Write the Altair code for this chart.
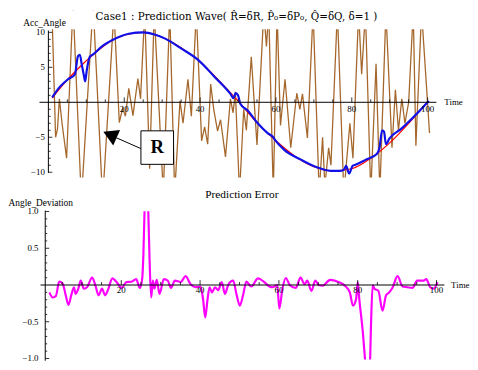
import altair as alt
import pandas as pd

# ---------------- data ----------------
# top panel: noisy measurement (brown), (time, angle)
measured = [(1.0, 12), (1.9, -5.0), (2.4, -3.8), (2.9, 0.5), (3.6, -3.0), (4.8, -8.0),
            (6.5, 14), (8.7, -14), (11.8, 14), (14.3, -14), (17.3, 13), (18.7, -2.9),
            (19.6, -0.8), (20.3, -2.0), (21.2, 2.0), (22.3, -1.9), (23.6, 3.4), (24.3, 0.5),
            (25.4, 13), (26.7, -9.5), (27.9, 13), (30.3, -13), (32.0, 13), (33.3, -13),
            (34.7, 0.2), (35.5, -3.0), (36.8, 3.3), (37.7, -2.0), (39.0, 13), (40.4, -5.5),
            (41.2, -3.5), (42.0, -6.0), (42.8, 2.6), (43.6, -1.0), (44.6, -4.1), (45.4, -2.5),
            (46.7, -7.8), (48.0, 0.5), (48.7, -1.5), (49.3, 1.5), (50.4, -13), (51.5, -1.0),
            (52.2, -4.0), (53.5, 6.5), (55.0, -6.1), (56.8, 13), (57.5, 8.0), (58.1, 13),
            (59.3, -13), (60.3, 13), (61.2, -3.3), (62.4, 3.3), (63.9, -6.5), (65.5, 1.3),
            (66.3, -1.0), (67.0, 1.2), (68.3, -5.1), (69.8, 13), (71.4, -13), (72.3, -5.0),
            (72.9, -12), (73.9, -6.5), (74.5, -9.0), (76.2, 13), (77.9, -13), (79.5, -3.0),
            (80.3, -8.0), (81.8, 13), (82.6, 4.0), (83.6, 13), (85.0, -13), (86.4, 5.5),
            (87.4, -13), (89.0, 13), (90.6, -6.5), (91.5, 1.8), (92.3, -4.0), (93.2, 0.5),
            (94.0, -3.0), (95.0, 0.0), (96.2, 13), (96.9, -6.2), (98.4, 13), (100.5, -4.4)]

# true angle (red)
true_wave = [(1, 0.6), (4, 2.6), (8, 4.9), (12, 6.9), (16, 8.6), (20, 9.6), (25, 10.0),
             (30, 9.3), (35, 7.8), (40, 5.8), (45, 3.1), (50, 0.2), (55, -2.9), (60, -5.5),
             (65, -7.7), (70, -9.2), (75, -9.8), (80, -9.5), (85, -8.0), (90, -5.8),
             (95, -3.0), (100, 0.1)]

# predicted angle (blue)
predicted = [(1.0, 0.7), (3.0, 2.2), (5.2, 3.3), (7.0, 4.0), (7.8, 6.6), (8.3, 6.8), (8.8, 5.4),
             (9.3, 4.0), (9.7, 3.0), (10.1, 4.5), (10.9, 6.5), (11.7, 6.8), (13.9, 7.9),
             (16.9, 8.9), (21.2, 9.8), (25.0, 10.0), (28.0, 9.7), (30.8, 9.1), (35.0, 7.7),
             (39.4, 6.1), (43.7, 3.7), (48.0, 1.2), (48.8, 0.6), (49.4, 1.3), (50.0, 1.0),
             (50.6, -0.2), (52.6, -1.2), (55.2, -3.0), (57.8, -4.4), (59.3, -5.0), (59.8, -5.4),
             (62.2, -6.8), (66.6, -8.2), (70.8, -9.3), (74.4, -9.8), (77.0, -9.8), (78.0, -9.6),
             (78.5, -9.1), (79.3, -10.2), (80.2, -9.1), (81.1, -8.9), (83.7, -8.2), (86.6, -7.4),
             (87.3, -6.5), (88.0, -4.0), (88.5, -4.2), (89.0, -6.0), (89.9, -5.2), (93.0, -3.8),
             (97.0, -1.7), (100.3, 0.2)]

# bottom panel: prediction error (magenta)
error = [(1.75, -0.10), (2.6, -0.17), (3.4, -0.15), (4.25, 0.045), (5.1, 0.02), (5.9, -0.14),
         (6.6, -0.27), (7.3, -0.14), (8.0, -0.03), (8.4, -0.12), (9.1, -0.05), (9.7, 0.06),
         (10.5, -0.05), (11.3, -0.03), (12.6, 0.10), (13.4, 0.0), (14.25, -0.14), (15.1, -0.05),
         (15.9, -0.14), (16.6, -0.07), (17.75, 0.09), (18.8, 0.04), (20.1, -0.04), (21.3, 0.04),
         (22.6, 0.045), (23.8, 0.08), (24.7, -0.04), (25.3, 0.08), (25.6, 0.4), (25.95, 1.1),
         (26.4, 1.5), (26.8, 1.1), (27.2, 0.3), (27.6, -0.17), (28.0, 0.06), (28.4, -0.05),
         (29.0, 0.07), (29.7, -0.12), (30.8, 0.08), (31.8, 0.06), (32.6, -0.04), (33.6, 0.06),
         (35.1, 0.04), (36.3, 0.12), (37.6, 0.01), (38.8, -0.03), (40.1, -0.02), (40.75, -0.19),
         (41.3, -0.44), (41.9, -0.19), (42.4, -0.03), (43.0, -0.10), (43.8, -0.03), (44.6, -0.07),
         (45.5, 0.04), (46.3, -0.12), (47.2, 0.01), (48.4, 0.06), (49.25, -0.13), (50.1, -0.28),
         (50.9, -0.14), (51.75, 0.045), (53.0, -0.02), (54.7, 0.09), (56.3, 0.04), (57.6, -0.02),
         (58.4, -0.03), (59.6, 0.0), (60.1, -0.32), (60.9, -0.05), (61.75, 0.095), (62.75, 0.0),
         (64.25, -0.04), (65.5, 0.10), (66.5, 0.01), (67.2, 0.06), (68.25, -0.08), (69.25, 0.06),
         (70.1, 0.0), (71.1, -0.01), (73.0, 0.07), (75.1, 0.04), (76.75, -0.01), (78.0, -0.10),
         (78.8, -0.28), (79.6, -0.19), (80.0, 0.04), (80.4, -0.19), (81.3, -0.64), (82.0, -1.1),
         (82.6, -1.4), (83.1, -1.1), (83.4, -0.5), (83.8, 0.0), (84.25, -0.05), (85.25, -0.08),
         (86.3, -0.35), (87.2, -0.14), (88.0, -0.10), (88.9, -0.03), (90.1, 0.12), (91.4, -0.02),
         (92.6, -0.03), (93.9, -0.04), (95.1, 0.06), (96.75, 0.06), (97.4, 0.08), (98.4, -0.03),
         (99.25, -0.05), (100.25, 0.04)]

# ticks and labels
x_major = [20, 40, 60, 80, 100]
x_major_labels = ["20", "40", "60", "80", "100"]
x_minor = [5, 10, 15, 25, 30, 35, 45, 50, 55, 65, 70, 75, 85, 90, 95]
top_y_major = [-10, -5, 5, 10]
top_y_labels = ["\u221210", "\u22125", "5", "10"]
top_y_minor = [v for v in range(-10, 11) if v % 5 != 0]
bot_y_major = [-1.0, -0.5, 0.5, 1.0]
bot_y_labels = ["\u22121.0", "\u22120.5", "0.5", "1.0"]
bot_y_minor = [round(k / 10, 1) for k in range(-10, 11) if k % 5 != 0]

title_top = "Case1 : Prediction Wave( R\u0302=\u03b4R, P\u0302\u2080=\u03b4P\u2080, Q\u0302=\u03b4Q, \u03b4=1 )"
title_bot = "Prediction Error"

FONT = "Liberation Serif"

# ---------------- scales ----------------
TX = alt.Scale(domain=[-10.649, 109.351], nice=False, zero=False)
TY = alt.Scale(domain=[-11.549, 13.099], nice=False, zero=False)
BX = alt.Scale(domain=[-8.75, 106.75], nice=False, zero=False)
BY = alt.Scale(domain=[-1.012, 1.387], nice=False, zero=False)


def enc(sx, sy, x="t", y="v", x2=None, y2=None, **extra):
    d = dict(x=alt.X(x, type="quantitative", scale=sx, axis=None),
             y=alt.Y(y, type="quantitative", scale=sy, axis=None))
    if x2:
        d["x2"] = alt.X2(x2)
    if y2:
        d["y2"] = alt.Y2(y2)
    d.update(extra)
    return d


def series_df(pairs):
    return pd.DataFrame({"t": [p[0] for p in pairs], "v": [p[1] for p in pairs],
                         "i": list(range(len(pairs)))})


def rules(sx, sy, rows, width=1.0):
    df = pd.DataFrame(rows, columns=["x1", "x2", "y1", "y2"])
    return alt.Chart(df).mark_rule(color="black", strokeWidth=width).encode(
        **enc(sx, sy, "x1", "y1", "x2", "y2"))


def texts(sx, sy, rows, size=9, align="center", baseline="middle", weight="normal", font=FONT):
    df = pd.DataFrame(rows, columns=["t", "v", "s"])
    return alt.Chart(df).mark_text(font=font, fontSize=size, align=align, baseline=baseline,
                                   fontWeight=weight, color="black").encode(
        **enc(sx, sy), text="s:N")


# ---------------- top panel ----------------
brown = alt.Chart(series_df(measured)).mark_line(color="#a5672c", strokeWidth=1.3, clip=True).encode(
    **enc(TX, TY, order="i:Q"))
mask_top = alt.Chart(pd.DataFrame({"t1": [0.5, 0.5], "t2": [103, 103], "v1": [10.45, -10.75],
                                   "v2": [13.099, -11.549]})).mark_rect(color="white").encode(
    **enc(TX, TY, "t1", "v1", "t2", "v2"))
red = alt.Chart(series_df(true_wave)).mark_line(color="#ff0000", strokeWidth=1.2, interpolate="monotone").encode(
    **enc(TX, TY, order="i:Q"))
blue = alt.Chart(series_df(predicted)).mark_line(color="#1010e8", strokeWidth=2.2, interpolate="monotone").encode(
    **enc(TX, TY, order="i:Q"))

top_axes = rules(TX, TY, [(-2.34, 102.3, 0, 0), (0, 0, 10.25, -10.1)])
top_ticks = rules(TX, TY,
                  [(t, t, 0, 0.7) for t in x_major] + [(t, t, 0, 0.42) for t in x_minor]
                  + [(0, 1.05, v, v) for v in top_y_major] + [(0, 0.6, v, v) for v in top_y_minor],
                  width=0.8)
top_xlab = texts(TX, TY, [(t, -0.9, s) for t, s in zip(x_major, x_major_labels)])
top_ylab = texts(TX, TY, [(-0.9, v, s) for v, s in zip(top_y_major, top_y_labels)], align="right")
top_titles = (texts(TX, TY, [(49.6, 12.2, title_top)], size=10.5, font="DejaVu Serif")
              + texts(TX, TY, [(-1.0, 11.3, "Acc_Angle")], size=9.5)
              + texts(TX, TY, [(104.4, 0.05, "Time")], size=9, align="left"))

box = alt.Chart(pd.DataFrame({"t1": [24.4], "t2": [33.0], "v1": [-4.08], "v2": [-8.87]})).mark_rect(
    fill="white", stroke="black", strokeWidth=1).encode(**enc(TX, TY, "t1", "v1", "t2", "v2"))
box_r = texts(TX, TY, [(28.7, -6.45, "R")], size=19, weight="bold")
arrow_line = rules(TX, TY, [(24.4, 17.9, -6.62, -5.07)], width=1.0)
arrow_head = alt.Chart(pd.DataFrame({"t": [16.83], "v": [-4.79]})).mark_point(
    shape="triangle", filled=True, color="black", opacity=1, size=290, angle=294).encode(**enc(TX, TY))

top = alt.layer(brown, mask_top, red, blue, top_axes, top_ticks, top_xlab, top_ylab, top_titles,
                arrow_line, arrow_head, box, box_r).properties(width=462, height=175)

# ---------------- bottom panel ----------------
magenta = alt.Chart(series_df(error)).mark_line(color="#ff00ff", strokeWidth=2.2, interpolate="monotone",
                                                clip=True).encode(**enc(BX, BY, order="i:Q"))
mask_bot = alt.Chart(pd.DataFrame({"t1": [0.5], "t2": [103], "v1": [1.003], "v2": [1.387]})).mark_rect(
    color="white").encode(**enc(BX, BY, "t1", "v1", "t2", "v2"))
bot_axes = rules(BX, BY, [(-0.5, 102.0, 0, 0), (0.7, 0.7, 1.012, -1.03)])
bot_ticks = rules(BX, BY,
                  [(t, t, 0, 0.067) for t in x_major] + [(t, t, 0, 0.04) for t in x_minor]
                  + [(0.7, 1.7, v, v) for v in bot_y_major] + [(0.7, 1.2, v, v) for v in bot_y_minor],
                  width=0.8)
bot_xlab = texts(BX, BY, [(t, -0.075, s) for t, s in zip(x_major, x_major_labels)])
bot_ylab = texts(BX, BY, [(-1.0, v, s) for v, s in zip(bot_y_major, bot_y_labels)], align="right")
bot_titles = (texts(BX, BY, [(50.6, 1.23, title_bot)], size=11.5)
              + texts(BX, BY, [(-8.6, 1.115, "Angle_Deviation")], size=9.5, align="left")
              + texts(BX, BY, [(103.7, 0.005, "Time")], size=9, align="left"))

bottom = alt.layer(magenta, mask_bot, bot_axes, bot_ticks, bot_xlab, bot_ylab, bot_titles).properties(
    width=462, height=179)

chart = alt.vconcat(top, bottom, spacing=0).resolve_scale(
    x="independent", y="independent").properties(padding=0).configure_view(strokeWidth=0)

chart.save("out.html", embed_options={"renderer": "svg", "actions": False})
